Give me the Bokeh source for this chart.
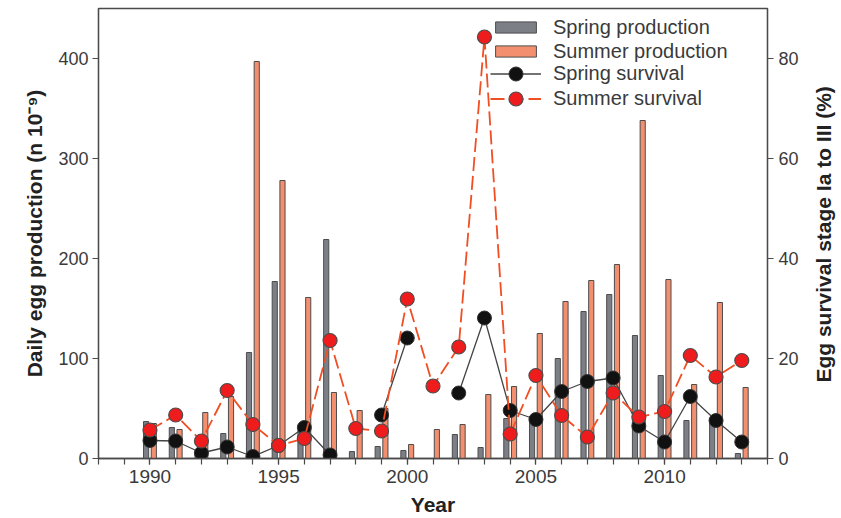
import math

from bokeh.core.properties import value
from bokeh.embed import file_html
from bokeh.layouts import row
from bokeh.models import (ColumnDataSource, FixedTicker, Legend, LegendItem,
                          LinearAxis, Range1d)
from bokeh.plotting import figure
from bokeh.resources import INLINE
from bokeh.transform import dodge

nan = float("nan")

# Annual series, 1990-2013 (NaN = no sample that year)
years = list(range(1990, 2014))
spring_production = [37, 31, 8, 25, 106, 177, 28, 219, 7, 12, 8, nan,
                     24, 11, 40, 42, 100, 147, 164, 123, 83, 38, 40, 5]
summer_production = [35, 29, 46, 62, 397, 278, 161, 66, 48, 50, 14, 29,
                     34, 64, 72, 125, 157, 178, 194, 338, 179, 74, 156, 71]
spring_survival = [3.6, 3.5, 1.1, 2.3, 0.4, 2.6, 6.2, 0.7, nan, 8.7, 24.1, nan,
                   13.1, 28.1, 9.6, 7.8, 13.4, 15.4, 16.1, 6.5, 3.3, 12.4, 7.6, 3.3]
summer_survival = [5.7, 8.7, 3.5, 13.6, 6.8, 2.6, 4.0, 23.6, 6.0, 5.5, 31.9, 14.5,
                   22.3, 84.3, 4.9, 16.6, 8.6, 4.3, 13.1, 8.3, 9.4, 20.6, 16.3, 19.6]

major_years = [1990, 1995, 2000, 2005, 2010]
minor_years = list(range(1988, 2015))
production_ticks = [0, 100, 200, 300, 400]
survival_ticks = [0, 20, 40, 60, 80]

production_title = "Daily egg production (n 10\u207b\u2079)"
survival_title = "Egg survival stage Ia to III (%)"

FONT = "Liberation Sans"
INK = "#3a3a3a"
AXIS = "#4a4a4a"
TITLE_SIZE = "21px"
HEIGHT = 518
STRIP_W = 30          # narrow strip to the right holding the survival title

src = ColumnDataSource(dict(
    year=years,
    spring_prod=spring_production,
    summer_prod=summer_production,
    spring_surv=spring_survival,
    summer_surv=summer_survival,
))

p = figure(width=841 - STRIP_W, height=HEIGHT,
           x_range=Range1d(1988, 2014), y_range=Range1d(0, 450),
           output_backend="svg", toolbar_location=None,
           min_border_left=98, min_border_right=74 - STRIP_W,
           min_border_top=8, min_border_bottom=60,
           background_fill_color="white", border_fill_color="white")
p.extra_y_ranges = {"surv": Range1d(0, 90)}

p.xgrid.visible = False
p.ygrid.visible = False
p.outline_line_color = AXIS
p.outline_line_width = 1.3

right_axis = LinearAxis(y_range_name="surv")
p.add_layout(right_axis, "right")


def style_axis(ax, size):
    ax.axis_line_color = AXIS
    ax.axis_line_width = 1.3
    ax.major_tick_line_color = AXIS
    ax.major_tick_line_width = 1.2
    ax.minor_tick_line_color = AXIS
    ax.minor_tick_line_width = 1.2
    ax.major_tick_in = 0
    ax.major_tick_out = 6
    ax.minor_tick_in = 0
    ax.minor_tick_out = 6
    ax.major_label_text_font = FONT
    ax.major_label_text_font_size = size
    ax.major_label_text_color = INK
    ax.axis_label_text_font = FONT
    ax.axis_label_text_font_style = "bold"
    ax.axis_label_text_color = "#222222"


xaxis = p.below[0]
style_axis(xaxis, "19px")
xaxis.ticker = FixedTicker(ticks=major_years, minor_ticks=minor_years)
xaxis.major_label_standoff = 5
xaxis.axis_label = "Year"
xaxis.axis_label_text_font_size = TITLE_SIZE
xaxis.axis_label_standoff = 7

left_axis = p.left[0]
style_axis(left_axis, "18px")
left_axis.ticker = FixedTicker(ticks=production_ticks, minor_ticks=[])
left_axis.major_label_standoff = 4
left_axis.axis_label = production_title
left_axis.axis_label_text_font_size = TITLE_SIZE
left_axis.axis_label_standoff = 9

style_axis(right_axis, "18px")
right_axis.ticker = FixedTicker(ticks=survival_ticks, minor_ticks=[])
right_axis.major_label_standoff = 5

BAR_W = 0.2
OUTLINE = "#4d4d4d"

spring_bars = p.vbar(x=dodge("year", -0.15, range=p.x_range), top="spring_prod",
                     width=BAR_W, bottom=0, source=src,
                     fill_color="#7d7f87", line_color=OUTLINE, line_width=1)
summer_bars = p.vbar(x=dodge("year", 0.15, range=p.x_range), top="summer_prod",
                     width=BAR_W, bottom=0, source=src,
                     fill_color="#f38f6e", line_color=OUTLINE, line_width=1)

spring_line = p.line("year", "spring_surv", source=src, y_range_name="surv",
                     line_color="#444444", line_width=1.3)
spring_pts = p.scatter("year", "spring_surv", source=src, y_range_name="surv",
                       size=14, fill_color="#111111", line_color="#333333",
                       line_width=1)

summer_line = p.line("year", "summer_surv", source=src, y_range_name="surv",
                     line_color="#f04e23", line_width=1.8, line_dash="14 5")
summer_pts = p.scatter("year", "summer_surv", source=src, y_range_name="surv",
                       size=14, fill_color="#ee1c1c", line_color="#4d4d4d",
                       line_width=1.2)


def make_legend(items, glyph_h, loc):
    lg = Legend(items=items, location=loc)
    lg.background_fill_alpha = 0
    lg.border_line_alpha = 0
    lg.padding = 0
    lg.margin = 0
    lg.spacing = 0
    lg.glyph_width = 51
    lg.glyph_height = glyph_h
    lg.label_height = 24
    lg.label_standoff = 12
    lg.label_text_font = FONT
    lg.label_text_font_size = "20px"
    lg.label_text_color = INK
    p.add_layout(lg)


# Bars share one legend block; each survival row gets a taller glyph box so
# its marker swatch is drawn at full size.
make_legend([
    LegendItem(label="Spring production", renderers=[spring_bars]),
    LegendItem(label="Summer production", renderers=[summer_bars]),
], 14, (392, 395))
make_legend([
    LegendItem(label="Spring survival", renderers=[spring_line, spring_pts]),
], 35, (392, 367))
make_legend([
    LegendItem(label="Summer survival", renderers=[summer_line, summer_pts]),
], 35, (392, 342))

# Title strip for the right-hand axis, reading bottom-to-top
strip = figure(width=STRIP_W, height=HEIGHT, title=None,
               x_range=Range1d(0, STRIP_W), y_range=Range1d(0, HEIGHT),
               x_axis_type=None, y_axis_type=None,
               output_backend="svg", toolbar_location=None,
               min_border=0, outline_line_color=None,
               background_fill_color="white", border_fill_color="white")
strip.grid.visible = False
strip.text(x=[12], y=[258], text=[survival_title], angle=math.pi / 2,
           text_align="center", text_baseline="middle",
           text_font=value(FONT), text_font_size=value(TITLE_SIZE),
           text_font_style="bold", text_color="#222222")

layout = row(p, strip, spacing=0)
open("out.html", "w").write(file_html(layout, INLINE))
